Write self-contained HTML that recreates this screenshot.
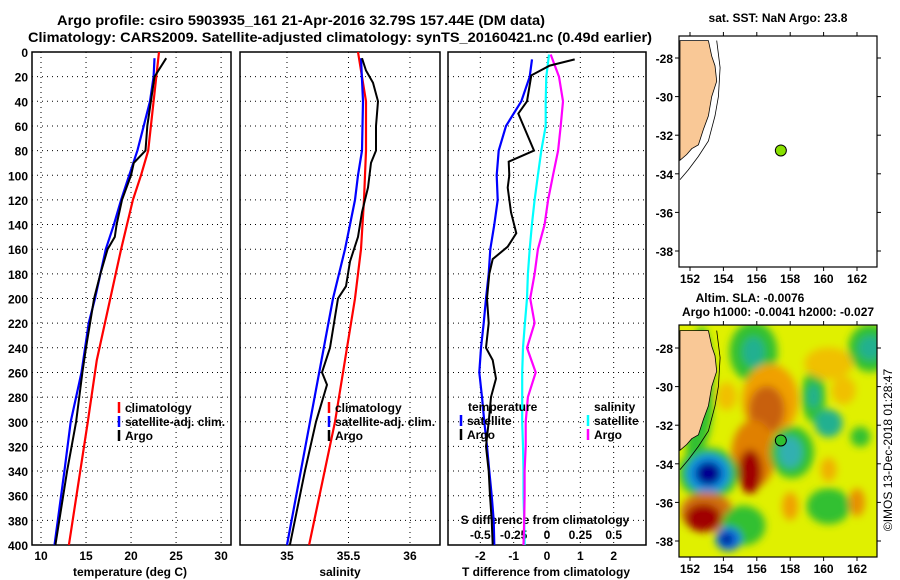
<!DOCTYPE html>
<html><head><meta charset="utf-8">
<style>
body{margin:0;background:#fff;}
svg{display:block;font-family:"Liberation Sans",sans-serif;font-weight:bold;}
</style></head>
<body>
<svg id="chart" width="900" height="580" viewBox="0 0 900 580" xmlns="http://www.w3.org/2000/svg">
<defs>
<clipPath id="mapclip"><rect x="679" y="325" width="198" height="232"/></clipPath>
<filter id="blur" x="-50%" y="-50%" width="200%" height="200%"><feGaussianBlur stdDeviation="4"/></filter>
</defs>
<text x="57" y="25" font-size="14" textLength="488" lengthAdjust="spacingAndGlyphs">Argo profile: csiro 5903935_161 21-Apr-2016 32.79S 157.44E (DM data)</text>
<text x="28" y="42" font-size="14" textLength="624" lengthAdjust="spacingAndGlyphs">Climatology: CARS2009. Satellite-adjusted climatology: synTS_20160421.nc (0.49d earlier)</text>
<g id="g"></g>
</svg>
<script>
// ---- data ----
const tDepthClim=[0,80,100,120,160,200,250,300,400];
const tClim=[23.1,21.9,21.1,20.2,18.9,17.7,16.2,15.2,13.1];
const tDepthSat=[5,20,40,60,80,100,120,140,160,180,200,220,260,300,340,400];
const tSat=[22.6,22.5,22.1,21.4,20.7,19.8,18.9,18.1,17.2,16.6,16.0,15.3,14.5,13.3,12.6,11.5];
const tDepthArgo=[5,20,40,60,80,90,100,120,140,150,160,180,200,240,260,300,340,400];
const tArgo=[23.9,22.6,22.2,21.8,21.6,20.3,20.0,19.0,18.4,18.2,17.4,16.6,15.9,15.0,14.6,13.9,12.9,11.6];

const sDepthClim=[0,40,80,120,160,200,300,400];
const sClim=[35.577,35.642,35.642,35.626,35.602,35.553,35.39,35.18];
const sDepthSat=[5,40,80,100,120,140,160,200,300,400];
const sSat=[35.602,35.618,35.61,35.577,35.553,35.512,35.472,35.374,35.187,35.0];
const sDepthArgo=[5,15,25,40,60,80,90,110,130,150,170,190,200,240,260,270,300,340,400];
const sArgo=[35.61,35.642,35.699,35.74,35.724,35.724,35.683,35.659,35.61,35.577,35.512,35.48,35.415,35.35,35.285,35.325,35.236,35.146,35.024];

const dDepthSatT=[6,20,40,60,80,100,120,140,160,180,200,220,240,260,280,300,320,340,360,380,400];
const dTSat=[-0.45,-0.52,-0.77,-1.23,-1.45,-1.51,-1.48,-1.58,-1.70,-1.75,-1.83,-1.90,-1.98,-2.03,-1.95,-1.88,-1.80,-1.73,-1.66,-1.60,-1.58];
const dDepthArgoT=[6,11,19,40,50,80,89,100,110,130,147,158,168,180,200,220,240,250,265,280,300,320,340,360,380,400];
const dTArgo=[0.83,0.08,-0.47,-0.60,-0.86,-0.39,-1.15,-1.13,-1.18,-1.08,-0.92,-1.18,-1.63,-1.73,-1.80,-1.75,-1.83,-1.63,-1.53,-1.68,-1.75,-1.83,-1.75,-1.71,-1.66,-1.63];
const dDepthS=[2,20,40,60,80,100,120,140,160,180,200,220,240,260,280,300,320,340,360,380,400];
const dSSat=[0.015,-0.005,-0.01,-0.01,-0.043,-0.068,-0.093,-0.113,-0.13,-0.143,-0.15,-0.166,-0.18,-0.186,-0.186,-0.186,-0.18,-0.176,-0.176,-0.171,-0.168];
const dSArgo=[0.028,0.09,0.12,0.103,0.083,0.045,0.008,-0.018,-0.068,-0.093,-0.126,-0.093,-0.15,-0.085,-0.143,-0.16,-0.16,-0.168,-0.168,-0.171,-0.176];

const depthTicks=[0,20,40,60,80,100,120,140,160,180,200,220,240,260,280,300,320,340,360,380,400];
const tTicks=[10,15,20,25,30];
const sTicks=[35,35.5,36];
const sTickLabels=["35","35.5","36"];
const dTTicks=[-2,-1,0,1,2];
const dSTicks=[-0.5,-0.25,0,0.25,0.5];
const dSTickLabels=["-0.5","-0.25","0","0.25","0.5"];
const lonTicks=[152,154,156,158,160,162];
const latTicks=[-28,-30,-32,-34,-36,-38];
const argoLon=157.44, argoLat=-32.79;

// ---- helpers ----
const NS="http://www.w3.org/2000/svg";
const G=document.getElementById('g');
function el(tag,attrs,parent){const e=document.createElementNS(NS,tag);for(const k in attrs)e.setAttribute(k,attrs[k]);(parent||G).appendChild(e);return e;}
function txt(x,y,s,size,anchor){const e=el('text',{x:x,y:y,'font-size':size||12,'text-anchor':anchor||'middle'});e.textContent=s;return e;}
const yTop=52,yBot=545;
const yD=d=>yTop+(yBot-yTop)*d/400;

function panel(name,x0,x1,v0,v1,ticks){
  const sx=v=>x0+(x1-x0)*(v-v0)/(v1-v0);
  const r=el('rect',{x:x0,y:yTop,width:x1-x0,height:yBot-yTop,fill:'none',stroke:'#000','stroke-width':1.5});
  
  
  depthTicks.forEach(d=>{if(d>0&&d<400){const l=el('line',{x1:x0,x2:x1,y1:yD(d),y2:yD(d),stroke:'#000','stroke-dasharray':'1,4'});
    
    }});
  ticks.forEach(v=>{const l=el('line',{x1:sx(v),x2:sx(v),y1:yTop,y2:yBot,stroke:'#000','stroke-dasharray':'1,4'});
    
    });
  return sx;
}
function series(name,sx,vals,depths,color,w){
  const pts=vals.map((v,i)=>sx(v).toFixed(1)+','+yD(depths[i]).toFixed(1)).join(' ');
  const p=el('polyline',{points:pts,fill:'none',stroke:color,'stroke-width':w||2});
  
  
}
function legend(x,y,items){
  items.forEach((it,i)=>{
    const l=el('line',{x1:x,x2:x,y1:y+i*14-10,y2:y+i*14+1,stroke:it[1],'stroke-width':2.5});
    
    
    const t=txt(x+6,y+i*14,it[0],12,'start');
    
    
  });
}

depthTicks.forEach(d=>{const t=txt(28,yD(d)+5,String(d),12,'end');
  
  });

const sx1=panel('temperature-panel',32,231,9,31.1,tTicks);
tTicks.forEach(v=>{const t=txt(sx1(v),560,String(v));
  
  });
let t1=txt(130,576,'temperature (deg C)');


series('temp-climatology',sx1,tClim,tDepthClim,'#f00',2.2);
series('temp-satellite',sx1,tSat,tDepthSat,'#00f',2.2);
series('temp-argo',sx1,tArgo,tDepthArgo,'#000',2);
legend(119,412,[['climatology','#f00'],['satellite-adj. clim.','#00f'],['Argo','#000']]);

const sx2=panel('salinity-panel',240,440,34.618,36.244,sTicks);
sTicks.forEach((v,i)=>{const t=txt(sx2(v),560,sTickLabels[i]);
  
  });
let t2=txt(340,576,'salinity');


series('sal-climatology',sx2,sClim,sDepthClim,'#f00',2.2);
series('sal-satellite',sx2,sSat,sDepthSat,'#00f',2.2);
series('sal-argo',sx2,sArgo,sDepthArgo,'#000',2);
legend(329,412,[['climatology','#f00'],['satellite-adj. clim.','#00f'],['Argo','#000']]);

const sx3=panel('difference-panel',448,646,-2.97,2.97,dTTicks);
const sx3s=v=>sx3(v*4);
dTTicks.forEach(v=>{const t=txt(sx3(v),560,String(v));
  
  });
dSTicks.forEach((v,i)=>{const t=txt(sx3s(v),539,dSTickLabels[i]);
  
  });
let t3=txt(545,524,'S difference from climatology');


let t4=txt(546,576,'T difference from climatology');


series('s-diff-satellite',sx3s,dSSat,dDepthS,'#0ff',2.2);
series('s-diff-argo',sx3s,dSArgo,dDepthS,'#f0f',2.2);
series('t-diff-satellite',sx3,dTSat,dDepthSatT,'#00f',2.2);
series('t-diff-argo',sx3,dTArgo,dDepthArgoT,'#000',2);
let lt=txt(468,411,'temperature',12,'start');


let ls=txt(594,411,'salinity',12,'start');


legend(461,425,[['satellite','#00f'],['Argo','#000']]);
legend(588,425,[['satellite','#0ff'],['Argo','#f0f']]);

// ---- maps ----
const mx0=679,mx1=877;
const lonX=lon=>690+(lon-152)*16.7;
const coast=[[152,-27.1],[153.1,-27.1],[153.3,-27.9],[153.5,-28.4],[153.6,-29.2],[153.3,-30],[153.1,-31],[152.8,-31.7],[152.5,-32.5],[152.1,-32.7],[151.8,-33],[151.4,-33.3],[151.4,-27.1]];
const contour=[[153.6,-27.1],[153.8,-28.5],[153.7,-30],[153.5,-31],[153.1,-32.3],[152.5,-33.1],[151.9,-33.8],[151.4,-34.3]];

function drawMap(name,yt,yb,lat28,heat){
  const latY=lat=>lat28+(-28-lat)*19.3;
  const grp=el('g',{});
  
  
  if(heat){
    const hg=el('g',{'clip-path':'url(#mapclip)'},grp);
    el('rect',{x:mx0,y:yt,width:mx1-mx0,height:yb-yt,fill:'#e0f000'},hg);
    const bg=el('g',{filter:'url(#blur)'},hg);
    heat.forEach(b=>{el('ellipse',{cx:lonX(b[0]),cy:latY(b[1]),rx:b[2],ry:b[3],fill:b[4]},bg);});
  }
  const land=el('polygon',{points:coast.map(p=>lonX(p[0]).toFixed(1)+','+Math.max(yt,latY(p[1])).toFixed(1)).join(' '),fill:'#f9c896',stroke:'#000','stroke-width':0.8},grp);
  
  
  el('polyline',{points:contour.map(p=>lonX(p[0]).toFixed(1)+','+Math.max(yt,latY(p[1])).toFixed(1)).join(' '),fill:'none',stroke:'#000','stroke-width':0.8},grp);
  el('rect',{x:mx0,y:yt,width:mx1-mx0,height:yb-yt,fill:'none',stroke:'#000','stroke-width':1.2},grp);
  lonTicks.forEach(v=>{el('line',{x1:lonX(v),x2:lonX(v),y1:yt,y2:yt-4,stroke:'#000'},grp);el('line',{x1:lonX(v),x2:lonX(v),y1:yb,y2:yb+4,stroke:'#000'},grp);
    const t=txt(lonX(v),yb+16,String(v));
    
    });
  latTicks.forEach(v=>{el('line',{x1:mx0,x2:mx0-4,y1:latY(v),y2:latY(v),stroke:'#000'},grp);el('line',{x1:mx1,x2:mx1+4,y1:latY(v),y2:latY(v),stroke:'#000'},grp);
    const t=txt(673,latY(v)+5,String(v),12,'end');
    
    });
  const dot=el('circle',{cx:lonX(argoLon),cy:latY(argoLat),r:5.5,fill:heat?'#30c030':'#88e000',stroke:'#000','stroke-width':1},grp);
  
  
}
drawMap('sst-map',36,267,58,null);
const heatBlobs=[
 [152.7,-30,12,60,'#30c030'],
 [152.3,-33,9,30,'#30c030'],
 [155.8,-28.2,24,30,'#30c030'],[155.8,-28.2,11,15,'#20b090'],
 [162.8,-28,22,24,'#30c030'],[162.8,-28,12,12,'#20b090'],
 [156.8,-30.7,28,36,'#f0a000'],[156.6,-31.2,18,24,'#c86010'],
 [155.8,-33.5,22,34,'#e08000'],[155.6,-34.4,12,22,'#a00000'],
 [153.1,-34.5,30,26,'#30c030'],[153.1,-34.5,22,20,'#1090e0'],[153.1,-34.5,13,12,'#000090'],
 [153,-36.5,26,20,'#d07010'],[152.8,-36.8,18,14,'#a00000'],
 [155.2,-37.2,22,20,'#30c030'],[154.3,-37.9,13,12,'#1070e0'],[154.2,-37.9,6,6,'#000090'],
 [158.1,-33.4,22,26,'#30c030'],[158,-33.4,12,16,'#30b0b0'],
 [159.4,-30.5,12,26,'#30c030'],[159.4,-30.5,6,12,'#20b090'],
 [160.3,-31.9,14,14,'#20b090'],
 [160.3,-36.2,22,18,'#30c030'],
 [162.2,-32.6,10,10,'#30c030'],
 [160.3,-34.3,8,12,'#f0b000'],[158,-36.2,8,14,'#f0a000'],[162,-36,8,14,'#e89000'],
 [160.3,-28.8,24,16,'#f0c000'],[154.2,-30.5,10,14,'#f0c000'],[161.2,-30.2,12,14,'#f0c000']
];
drawMap('sla-map',325,557,348,heatBlobs);

let mt1=txt(778,22,'sat. SST: NaN Argo: 23.8');


let mt2=txt(750,302,'Altim. SLA: -0.0076');


let mt3=txt(778,316,'Argo h1000: -0.0041 h2000: -0.027');


let cp=txt(0,0,'©IMOS 13-Dec-2018 01:28:47',12,'middle');
cp.setAttribute('transform','translate(892,450) rotate(-90)');
cp.setAttribute('font-weight','normal');


</script>
</body></html>
